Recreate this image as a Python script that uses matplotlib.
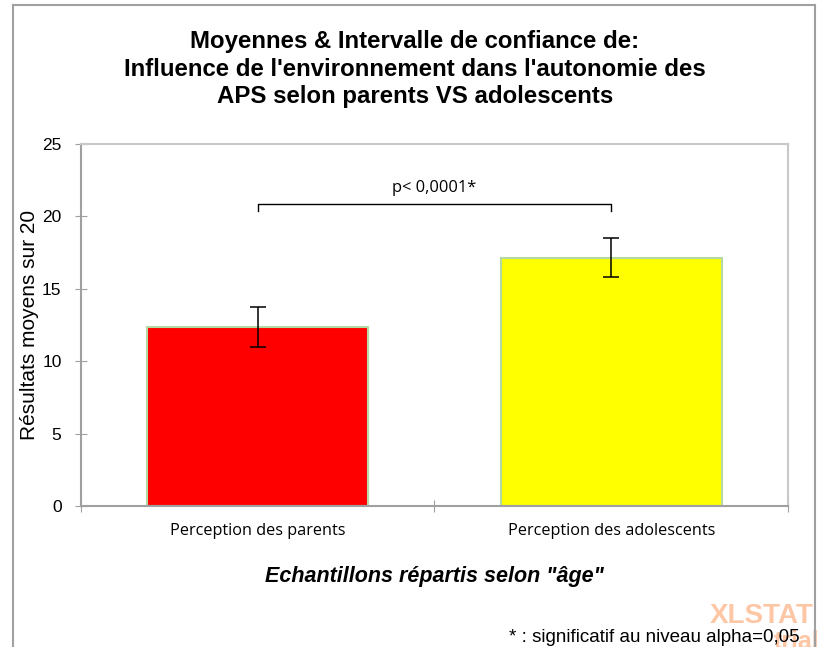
import matplotlib
matplotlib.use("Agg")
import matplotlib.pyplot as plt

plt.rcParams["font.family"] = ["Liberation Sans", "DejaVu Sans"]

# Group means and 95% confidence bounds
groups = ["Perception des parents", "Perception des adolescents"]
means = [12.35, 17.15]
ci_low = [10.99, 15.84]
ci_high = [13.76, 18.51]
bar_colors = ["#FF0000", "#FFFF00"]

y_ticks = [0, 5, 10, 15, 20, 25]
p_label = "p< 0,0001*"
bracket_y = 20.85
bracket_drop = 0.5

AXIS_GREY = "#A0A0A0"
FRAME_GREY = "#C8C8C8"
EDGE_GREEN = "#B5D9A5"
WATERMARK = "#FDC7A6"

fig = plt.figure(figsize=(8.17, 6.47), dpi=100)
fig.patch.set_facecolor("white")

# outer chart frame (open at the bottom)
for xs, ys in [([0.0153, 0.0153], [0.0, 0.9923]),
               ([0.0153, 0.998], [0.9923, 0.9923]),
               ([0.998, 0.998], [0.0, 0.9923])]:
    fig.add_artist(plt.Line2D(xs, ys, transform=fig.transFigure,
                              color="#A0A0A0", linewidth=1.5))

ax = fig.add_axes([0.0991, 0.2179, 0.8654, 0.5595])

x = [0, 1]
err_low = [m - lo for m, lo in zip(means, ci_low)]
err_high = [hi - m for m, hi in zip(means, ci_high)]
ax.bar(x, means, width=0.625, color=bar_colors, edgecolor=EDGE_GREEN, linewidth=1.5, zorder=2)
ax.errorbar(x, means, yerr=[err_low, err_high], fmt="none", ecolor="black",
            elinewidth=1.1, capsize=6, capthick=1.1, zorder=3)

# significance bracket between the two groups
ax.plot([x[0], x[0], x[1], x[1]],
        [bracket_y - bracket_drop, bracket_y, bracket_y, bracket_y - bracket_drop],
        color="black", linewidth=1, zorder=3)
ax.text((x[0] + x[1]) / 2, bracket_y + 0.55, p_label, ha="center", va="bottom",
        fontsize=11.8, family=["Open Sans", "DejaVu Sans"])

ax.set_xlim(-0.5, 1.5)
ax.set_ylim(0, 25)
ax.set_yticks(y_ticks)
ax.set_yticklabels([str(v) for v in y_ticks], fontsize=12.5)
ax.set_xticks([-0.5, 0.5, 1.5])
ax.set_xticklabels([])
ax.set_xticks(x, minor=True)
ax.set_xticklabels(groups, minor=True, fontsize=11.7, family=["Open Sans", "DejaVu Sans"])
ax.tick_params(axis="x", which="minor", length=0, pad=12)
ax.tick_params(axis="x", which="major", direction="inout", length=8, color=AXIS_GREY)
ax.tick_params(axis="y", direction="inout", length=8, color=AXIS_GREY, pad=10)

for side in ["left", "bottom"]:
    ax.spines[side].set_color(AXIS_GREY)
    ax.spines[side].set_linewidth(1.5)
for side in ["top", "right"]:
    ax.spines[side].set_color(FRAME_GREY)
    ax.spines[side].set_linewidth(1.5)

ax.set_ylabel("Résultats moyens sur 20", fontsize=15)
ax.yaxis.set_label_coords(-0.059, 0.5)
ax.set_xlabel('Echantillons répartis selon "âge"', fontsize=15.5, fontweight="bold",
              fontstyle="italic", labelpad=20)

fig.text(0.508, 0.953, "Moyennes & Intervalle de confiance de:\n"
         "Influence de l'environnement dans l'autonomie des\n"
         "APS selon parents VS adolescents",
         ha="center", va="top", fontsize=17.3, fontweight="bold", linespacing=1.24)

# XLSTAT trial watermark
fig.text(0.9327, 0.0371, "XLSTAT", ha="center", va="baseline", fontsize=20, fontweight="bold",
         color=WATERMARK, zorder=0)
fig.text(0.9755, 0.026, "trial", ha="center", va="top", fontsize=18, fontweight="bold",
         color=WATERMARK, zorder=0)

fig.text(0.979, 0.002, "* : significatif au niveau alpha=0,05", ha="right", va="bottom",
         fontsize=13.5, zorder=2)

fig.savefig("out.png", dpi=100, facecolor="white")
